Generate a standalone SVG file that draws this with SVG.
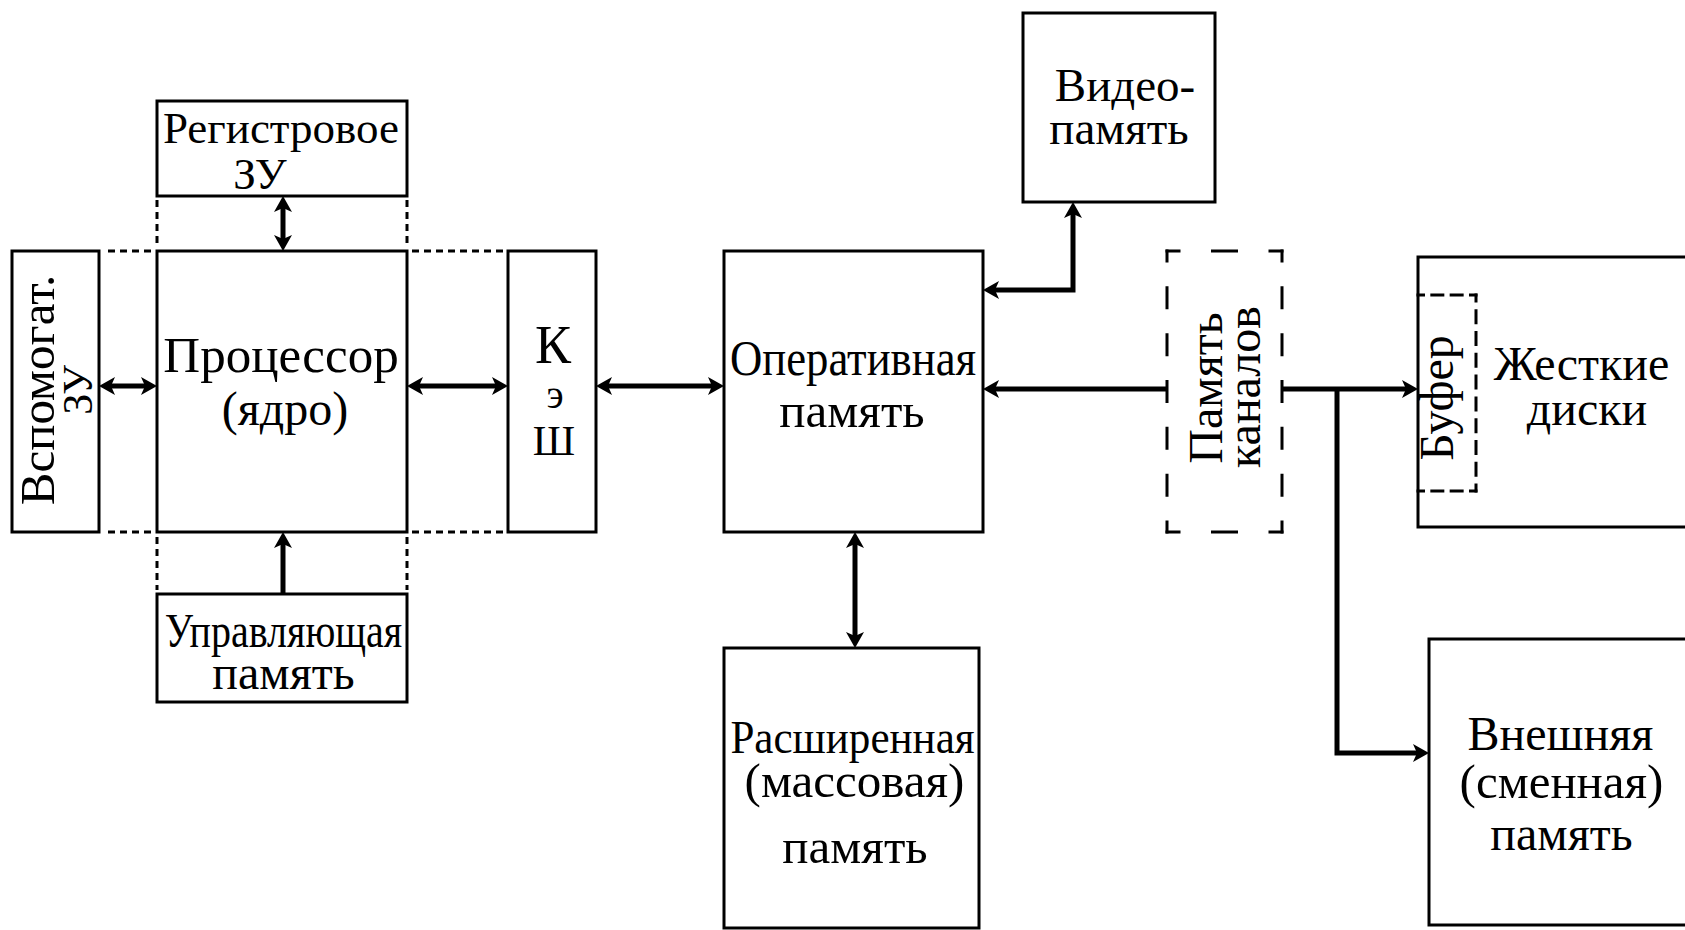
<svg xmlns="http://www.w3.org/2000/svg" width="1685" height="930" viewBox="0 0 1685 930">
<style>
.box{fill:none;stroke:#000;stroke-width:3}
.dot{fill:none;stroke:#000;stroke-width:3;stroke-dasharray:7 5}
.dsh{fill:none;stroke:#000;stroke-width:3;stroke-linecap:square}
.con{fill:none;stroke:#000;stroke-width:5;stroke-linejoin:miter}
</style>
<defs>
<marker id="ah" markerUnits="userSpaceOnUse" viewBox="0 0 16 18" markerWidth="16" markerHeight="18" refX="8" refY="9" orient="auto-start-reverse">
<path d="M0,0 L16,9 L0,18 L4,9 Z" fill="#000"/>
</marker>
</defs>
<rect width="1685" height="930" fill="#fff"/>

<g id="guides">
<path class="dot" d="M108,251 H152 M412,251 H504 M108,532 H152 M412,532 H504"/>
<path class="dot" d="M157,200 V247 M407,200 V247 M157,537 V590 M407,537 V590"/>
</g>

<g id="reg">
<rect class="box" x="157" y="101" width="250" height="95"/>
<text x="281" y="143" font-size="45" font-family="Liberation Serif" text-anchor="middle">Регистровое</text>
<text x="260" y="189" font-size="45" font-family="Liberation Serif" text-anchor="middle">ЗУ</text>
</g>

<g id="proc">
<rect class="box" x="157" y="251" width="250" height="281"/>
<text x="281" y="372" font-size="51" font-family="Liberation Serif" text-anchor="middle">Процессор</text>
<text x="285" y="425" font-size="48" font-family="Liberation Serif" text-anchor="middle">(ядро)</text>
</g>

<g id="aux">
<rect class="box" x="12" y="251" width="87" height="281"/>
<text transform="translate(54,390) rotate(-90)" x="0" y="0" font-size="49" font-family="Liberation Serif" text-anchor="middle">Вспомогат.</text>
<text transform="translate(92,390) rotate(-90)" x="0" y="0" font-size="42" font-family="Liberation Serif" text-anchor="middle">ЗУ</text>
</g>

<g id="cache">
<rect class="box" x="508" y="251" width="88" height="281"/>
<text x="553" y="363" font-size="54" font-family="Liberation Serif" text-anchor="middle">К</text>
<text x="555" y="408" font-size="40" font-family="Liberation Serif" text-anchor="middle">э</text>
<text x="554" y="455" font-size="42" font-family="Liberation Serif" text-anchor="middle">Ш</text>
</g>

<g id="ctrl">
<rect class="box" x="157" y="594" width="250" height="108"/>
<text transform="translate(283.5,647) scale(0.833,1)" x="0" y="0" font-size="48" font-family="Liberation Serif" text-anchor="middle">Управляющая</text>
<text x="283.5" y="689" font-size="48" font-family="Liberation Serif" text-anchor="middle">память</text>
</g>

<g id="ram">
<rect class="box" x="724" y="251" width="259" height="281"/>
<text transform="translate(853,375) scale(0.895,1)" x="0" y="0" font-size="50" font-family="Liberation Serif" text-anchor="middle">Оперативная</text>
<text x="852" y="427" font-size="49" font-family="Liberation Serif" text-anchor="middle">память</text>
</g>

<g id="video">
<rect class="box" x="1023" y="13" width="192" height="189"/>
<text x="1125" y="101" font-size="47" font-family="Liberation Serif" text-anchor="middle">Видео-</text>
<text x="1119" y="144" font-size="47" font-family="Liberation Serif" text-anchor="middle">память</text>
</g>

<g id="ext">
<rect class="box" x="724" y="648" width="255" height="280"/>
<text transform="translate(852.5,753) scale(0.937,1)" x="0" y="0" font-size="46" font-family="Liberation Serif" text-anchor="middle">Расширенная</text>
<text x="854.5" y="797" font-size="49" font-family="Liberation Serif" text-anchor="middle">(массовая)</text>
<text x="855" y="863" font-size="49" font-family="Liberation Serif" text-anchor="middle">память</text>
</g>

<g id="chan">
<path class="dsh" d="M1167,251 V532 M1282,251 V532" stroke-dasharray="20 26.83" stroke-dashoffset="10"/>
<path class="dsh" d="M1167,251 H1282 M1167,532 H1282" stroke-dasharray="24 33.5" stroke-dashoffset="12"/>
<text transform="translate(1222,388) rotate(-90)" x="0" y="0" font-size="48" font-family="Liberation Serif" text-anchor="middle">Память</text>
<text transform="translate(1260,387) rotate(-90)" x="0" y="0" font-size="48" font-family="Liberation Serif" text-anchor="middle">каналов</text>
</g>

<g id="hdd">
<rect class="box" x="1418" y="257" width="300" height="270"/>
<text x="1581.5" y="380" font-size="48" font-family="Liberation Serif" text-anchor="middle">Жесткие</text>
<text x="1587" y="425" font-size="48" font-family="Liberation Serif" text-anchor="middle">диски</text>
</g>

<g id="buffer">
<path class="dsh" d="M1476,295 V491" stroke-dasharray="12 9.78" stroke-dashoffset="6"/>
<path class="dsh" d="M1418,295 H1476 M1418,491 H1476" stroke-dasharray="11 8.33" stroke-dashoffset="5.5"/>
<text transform="translate(1453,398) rotate(-90)" x="0" y="0" font-size="48" font-family="Liberation Serif" text-anchor="middle">Буфер</text>
</g>

<g id="removable">
<rect class="box" x="1429" y="639" width="300" height="286"/>
<text x="1560.5" y="750" font-size="48" font-family="Liberation Serif" text-anchor="middle">Внешняя</text>
<text x="1561.5" y="798" font-size="49" font-family="Liberation Serif" text-anchor="middle">(сменная)</text>
<text x="1561.5" y="850" font-size="48" font-family="Liberation Serif" text-anchor="middle">память</text>
</g>

<g id="connectors">
<path class="con" d="M107,386 H149" marker-start="url(#ah)" marker-end="url(#ah)"/>
<path class="con" d="M415,386 H500" marker-start="url(#ah)" marker-end="url(#ah)"/>
<path class="con" d="M604,386 H716" marker-start="url(#ah)" marker-end="url(#ah)"/>
<path class="con" d="M283,204 V243" marker-start="url(#ah)" marker-end="url(#ah)"/>
<path class="con" d="M283,594 V540" marker-end="url(#ah)"/>
<path class="con" d="M991,290 H1073 V210" marker-start="url(#ah)" marker-end="url(#ah)"/>
<path class="con" d="M1167,389 H991" marker-end="url(#ah)"/>
<path class="con" d="M1282,389 H1410" marker-end="url(#ah)"/>
<path class="con" d="M1337,389 V753 H1421" marker-end="url(#ah)"/>
<path class="con" d="M855,540 V640" marker-start="url(#ah)" marker-end="url(#ah)"/>
</g>
</svg>
